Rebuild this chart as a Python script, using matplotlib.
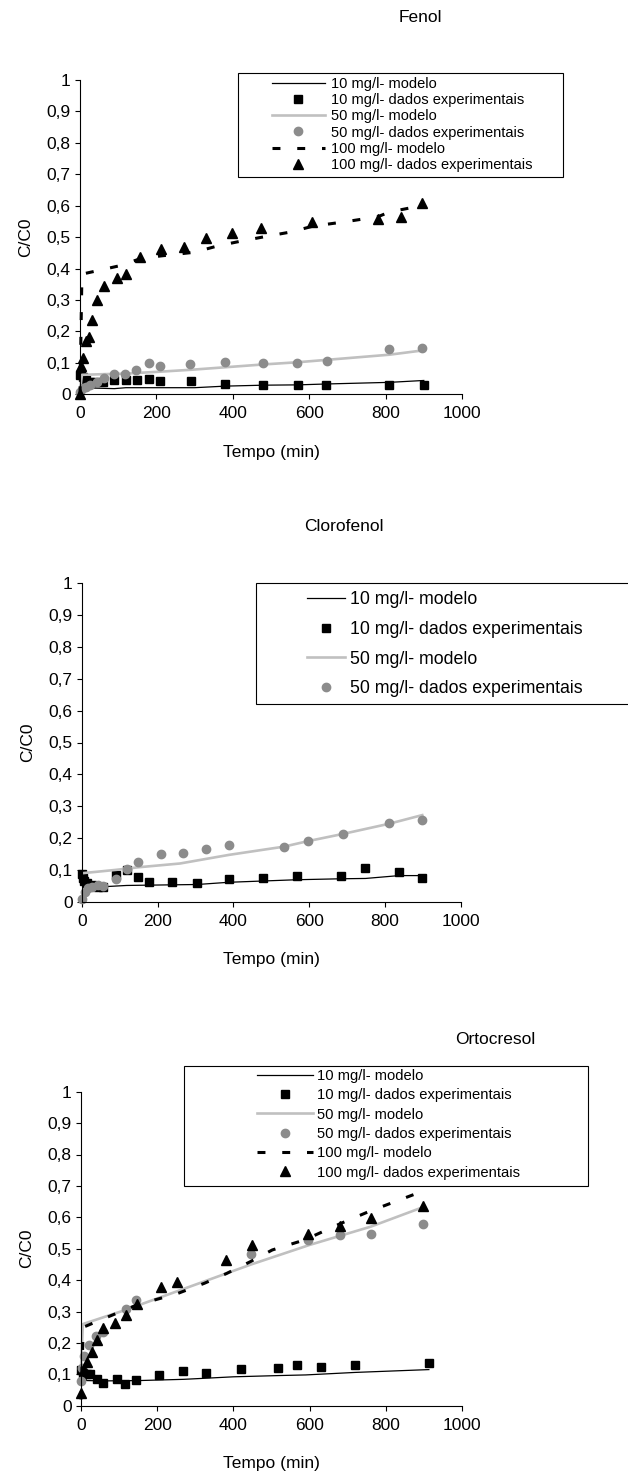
import matplotlib
matplotlib.use("Agg")
import matplotlib.pyplot as plt
from matplotlib.lines import Line2D
from matplotlib.patches import Rectangle

plt.rcParams['font.family'] = ['Liberation Sans', 'DejaVu Sans']

W, H = 628, 1475

# ---- Fenol ----
fen_t10 = [0, 3, 8, 15, 25, 40, 60, 90, 120, 150, 180, 210, 290, 380, 480, 570, 645, 810, 900]
fen_c10 = [0.06, 0.065, 0.055, 0.045, 0.04, 0.038, 0.04, 0.046, 0.046, 0.046, 0.049, 0.041, 0.041,
           0.032, 0.029, 0.029, 0.03, 0.03, 0.03]
fen_t50 = [0, 7, 16, 26, 44, 63, 89, 119, 146, 180, 209, 289, 379, 478, 567, 647, 809, 896]
fen_c50 = [0.008, 0.019, 0.024, 0.03, 0.04, 0.051, 0.065, 0.065, 0.077, 0.099, 0.09, 0.095, 0.104,
           0.099, 0.099, 0.107, 0.143, 0.146]
fen_t100 = [0, 3, 9, 16, 24, 31, 45, 64, 96, 120, 157, 212, 273, 331, 398, 475, 608, 779, 840, 896]
fen_c100 = [0.0, 0.09, 0.115, 0.168, 0.183, 0.236, 0.300, 0.343, 0.369, 0.382, 0.438, 0.461, 0.47,
            0.496, 0.514, 0.528, 0.547, 0.557, 0.563, 0.608]
fen_mt10 = [0, 5, 30, 90, 120, 300, 380, 480, 570, 650, 810, 900]
fen_m10 = [0.06, 0.022, 0.02, 0.018, 0.021, 0.021, 0.026, 0.029, 0.03, 0.033, 0.038, 0.044]
fen_mt50 = [0, 5, 60, 120, 210, 290, 380, 480, 570, 650, 810, 900]
fen_m50 = [0.01, 0.062, 0.064, 0.066, 0.072, 0.078, 0.086, 0.095, 0.102, 0.11, 0.126, 0.14]
fen_mt100 = [0, 5, 15, 100, 160, 210, 300, 360, 420, 490, 550, 610, 700, 780, 810, 860, 900]
fen_m100 = [0.0, 0.38, 0.385, 0.408, 0.432, 0.44, 0.452, 0.472, 0.487, 0.503, 0.516, 0.535, 0.55,
            0.565, 0.58, 0.592, 0.61]

# ---- Clorofenol ----
clo_t10 = [0, 2, 5, 14, 26, 42, 56, 90, 118, 148, 176, 238, 304, 388, 478, 568, 685, 749, 838, 899]
clo_c10 = [0.086, 0.073, 0.066, 0.06, 0.052, 0.047, 0.047, 0.084, 0.099, 0.079, 0.063, 0.063, 0.058,
           0.07, 0.076, 0.082, 0.082, 0.105, 0.092, 0.073]
clo_t50 = [0, 7, 16, 26, 41, 56, 90, 118, 148, 210, 268, 327, 388, 534, 596, 690, 812, 899]
clo_c50 = [0.008, 0.031, 0.042, 0.045, 0.052, 0.049, 0.07, 0.102, 0.126, 0.149, 0.152, 0.164, 0.179,
           0.173, 0.191, 0.213, 0.248, 0.257]
clo_mt10 = [0, 20, 56, 118, 176, 304, 388, 478, 568, 685, 749, 838, 899]
clo_m10 = [0.086, 0.05, 0.047, 0.051, 0.052, 0.054, 0.061, 0.065, 0.069, 0.072, 0.073, 0.082, 0.082]
clo_mt50 = [5, 56, 90, 148, 259, 388, 534, 596, 690, 812, 899]
clo_m50 = [0.09, 0.096, 0.1, 0.108, 0.12, 0.147, 0.173, 0.19, 0.213, 0.245, 0.272]

# ---- Ortocresol ----
ort_t10 = [0, 6, 15, 24, 41, 57, 94, 115, 144, 205, 269, 327, 419, 516, 568, 629, 718, 913]
ort_c10 = [0.115, 0.105, 0.1, 0.1, 0.084, 0.073, 0.084, 0.068, 0.082, 0.098, 0.111, 0.103, 0.116,
           0.121, 0.13, 0.124, 0.13, 0.135]
ort_t50 = [0, 3, 8, 21, 40, 59, 117, 145, 447, 595, 681, 760, 897]
ort_c50 = [0.078, 0.12, 0.158, 0.193, 0.222, 0.236, 0.307, 0.337, 0.482, 0.528, 0.544, 0.547, 0.579]
ort_t100 = [0, 8, 15, 28, 42, 58, 89, 118, 148, 210, 251, 380, 448, 595, 681, 760, 897]
ort_c100 = [0.04, 0.115, 0.14, 0.172, 0.209, 0.246, 0.262, 0.289, 0.324, 0.377, 0.395, 0.464, 0.512,
            0.547, 0.572, 0.599, 0.636]
ort_mt10 = [0, 15, 60, 150, 270, 400, 520, 590, 720, 913]
ort_m10 = [0.11, 0.08, 0.079, 0.08, 0.084, 0.092, 0.096, 0.098, 0.106, 0.115]
ort_mt50 = [0, 5, 117, 447, 600, 760, 897]
ort_m50 = [0.12, 0.26, 0.305, 0.45, 0.512, 0.57, 0.632]
ort_mt100 = [0, 6, 61, 145, 255, 324, 382, 445, 502, 587, 681, 755, 892]
ort_m100 = [0.02, 0.25, 0.278, 0.32, 0.358, 0.39, 0.421, 0.459, 0.496, 0.528, 0.58, 0.618, 0.681]

labels = ['10 mg/l- modelo', '10 mg/l- dados experimentais',
          '50 mg/l- modelo', '50 mg/l- dados experimentais',
          '100 mg/l- modelo', '100 mg/l- dados experimentais']
yticks = [i / 10 for i in range(11)]
ytick_labels = ['0'] + ['0,%d' % i for i in range(1, 10)] + ['1']
xticks = [0, 200, 400, 600, 800, 1000]

LGRAY = '#c0c0c0'
MGRAY = '#8c8c8c'
DASH = (2.6, 5.5)

fig = plt.figure(figsize=(W / 100, H / 100), dpi=100)


def px_axes(x0, y0, x1, y1):
    return fig.add_axes([x0 / W, 1 - y1 / H, (x1 - x0) / W, (y1 - y0) / H])


def style(ax):
    ax.set_xlim(0, 1000)
    ax.set_ylim(0, 1)
    ax.set_xticks(xticks)
    ax.set_yticks(yticks)
    ax.set_yticklabels(ytick_labels)
    for s in ['top', 'right']:
        ax.spines[s].set_visible(False)
    for s in ['left', 'bottom']:
        ax.spines[s].set_linewidth(0.8)
    ax.tick_params(direction='out', length=3.6, width=0.8, labelsize=12.5)
    ax.tick_params(axis='x', pad=5)
    ax.tick_params(axis='y', pad=3)
    ax.set_xlabel('Tempo (min)', fontsize=12.5, labelpad=17)
    ax.set_ylabel('C/C0', fontsize=12.5, labelpad=10)


def draw(ax, m10, e10, m50, e50, m100=None, e100=None):
    kw = dict(clip_on=False)
    ax.plot(*m10, color='black', lw=0.9, **kw)
    ax.plot(*e10, ls='none', marker='s', ms=6, color='black', **kw)
    ax.plot(*m50, color=LGRAY, lw=1.9, **kw)
    ax.plot(*e50, ls='none', marker='o', ms=6, color=MGRAY, **kw)
    if m100 is not None:
        ax.plot(*m100, color='black', lw=2.2, dashes=DASH, **kw)
        ax.plot(*e100, ls='none', marker='^', ms=7, color='black', **kw)


def handles(n):
    h = [Line2D([], [], color='black', lw=0.9),
         Line2D([], [], ls='none', marker='s', ms=6, color='black'),
         Line2D([], [], color=LGRAY, lw=1.9),
         Line2D([], [], ls='none', marker='o', ms=6, color=MGRAY),
         Line2D([], [], color='black', lw=2.2, dashes=DASH),
         Line2D([], [], ls='none', marker='^', ms=7, color='black')]
    return h[:n]


def legend_box(n, box, hx, top, size, hlen, tpad, lsp):
    # white framed box with the legend entries laid on top of it
    x0, y0, x1, y1 = box
    fig.add_artist(Rectangle((x0 / W, 1 - y1 / H), (x1 - x0) / W, (y1 - y0) / H,
                             transform=fig.transFigure, facecolor='white',
                             edgecolor='black', lw=0.8, zorder=3))
    leg = fig.legend(handles(n), labels[:n], loc='upper left', frameon=False,
                     bbox_to_anchor=(hx / W, 1 - top / H), bbox_transform=fig.transFigure,
                     borderpad=0, borderaxespad=0, fontsize=size, handlelength=hlen,
                     handletextpad=tpad, labelspacing=lsp, numpoints=1)
    leg.set_zorder(4)


# Fenol
ax1 = px_axes(80, 80, 462, 394.3)
style(ax1)
draw(ax1, (fen_mt10, fen_m10), (fen_t10, fen_c10), (fen_mt50, fen_m50), (fen_t50, fen_c50),
     (fen_mt100, fen_m100), (fen_t100, fen_c100))
legend_box(6, (238, 73, 563, 177), 272, 77, 10.5, 3.6, 0.45, 0.15)
fig.text(420 / W, 1 - 17 / H, 'Fenol', ha='center', va='center', fontsize=12.5)

# Clorofenol
ax2 = px_axes(82, 583.3, 460.5, 901.7)
style(ax2)
draw(ax2, (clo_mt10, clo_m10), (clo_t10, clo_c10), (clo_mt50, clo_m50), (clo_t50, clo_c50))
legend_box(4, (256, 583, 660, 704), 306.7, 591, 12.8, 2.15, 0.28, 0.72)
fig.text(344 / W, 1 - 527 / H, 'Clorofenol', ha='center', va='center', fontsize=12.5)

# Ortocresol
ax3 = px_axes(81, 1091.7, 462, 1405.7)
style(ax3)
draw(ax3, (ort_mt10, ort_m10), (ort_t10, ort_c10), (ort_mt50, ort_m50), (ort_t50, ort_c50),
     (ort_mt100, ort_m100), (ort_t100, ort_c100))
legend_box(6, (184, 1066, 588, 1186), 257, 1069, 10.6, 3.8, 0.27, 0.36)
fig.text(495 / W, 1 - 1040 / H, 'Ortocresol', ha='center', va='center', fontsize=12.5)

fig.savefig('out.png', dpi=100)
